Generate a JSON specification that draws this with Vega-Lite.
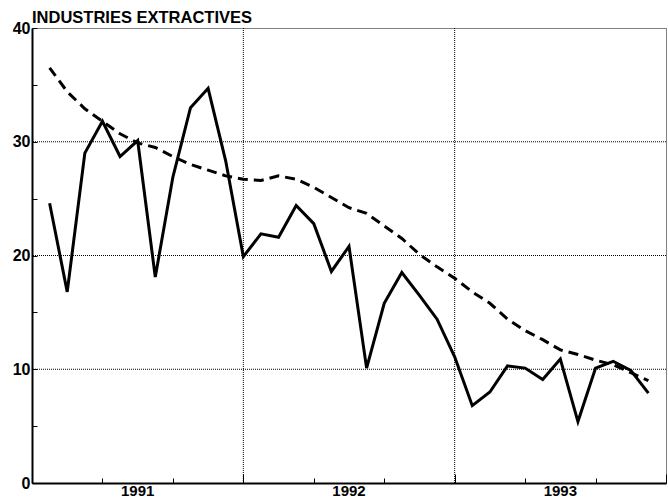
{
  "$schema": "https://vega.github.io/schema/vega-lite/v6.json",
  "width": 634,
  "height": 455,
  "autosize": {"type": "none"},
  "padding": {"left": 32, "top": 28, "right": 2, "bottom": 18},
  "background": "white",
  "config": {
    "view": {"stroke": "black", "strokeDash": [1, 1], "strokeWidth": 1},
    "font": "Liberation Sans"
  },
  "title": {
    "text": "INDUSTRIES EXTRACTIVES",
    "anchor": "start",
    "frame": "group",
    "fontSize": 16.5,
    "fontWeight": "bold",
    "font": "Liberation Sans",
    "color": "black",
    "offset": 4,
    "dy": 23,
    "baseline": "alphabetic"
  },
  "datasets": {
    "hgrid": [{"v": 10}, {"v": 20}, {"v": 30}],
    "vgrid": [{"m": 12}, {"m": 24}],
    "years": [{"m": 6, "yr": "1991"}, {"m": 18, "yr": "1992"}, {"m": 30, "yr": "1993"}],
    "series": [
      {"m": 1, "s": "actual", "v": 24.6}, {"m": 2, "s": "actual", "v": 16.8}, {"m": 3, "s": "actual", "v": 29.0},
      {"m": 4, "s": "actual", "v": 31.8}, {"m": 5, "s": "actual", "v": 28.7}, {"m": 6, "s": "actual", "v": 30.1},
      {"m": 7, "s": "actual", "v": 18.1}, {"m": 8, "s": "actual", "v": 26.9}, {"m": 9, "s": "actual", "v": 33.0},
      {"m": 10, "s": "actual", "v": 34.7}, {"m": 11, "s": "actual", "v": 28.3}, {"m": 12, "s": "actual", "v": 19.9},
      {"m": 13, "s": "actual", "v": 21.9}, {"m": 14, "s": "actual", "v": 21.6}, {"m": 15, "s": "actual", "v": 24.4},
      {"m": 16, "s": "actual", "v": 22.8}, {"m": 17, "s": "actual", "v": 18.6}, {"m": 18, "s": "actual", "v": 20.8},
      {"m": 19, "s": "actual", "v": 10.1}, {"m": 20, "s": "actual", "v": 15.8}, {"m": 21, "s": "actual", "v": 18.5},
      {"m": 22, "s": "actual", "v": 16.5}, {"m": 23, "s": "actual", "v": 14.4}, {"m": 24, "s": "actual", "v": 11.1},
      {"m": 25, "s": "actual", "v": 6.8}, {"m": 26, "s": "actual", "v": 8.0}, {"m": 27, "s": "actual", "v": 10.3},
      {"m": 28, "s": "actual", "v": 10.1}, {"m": 29, "s": "actual", "v": 9.1}, {"m": 30, "s": "actual", "v": 10.9},
      {"m": 31, "s": "actual", "v": 5.4}, {"m": 32, "s": "actual", "v": 10.1}, {"m": 33, "s": "actual", "v": 10.7},
      {"m": 34, "s": "actual", "v": 9.9}, {"m": 35, "s": "actual", "v": 7.9},
      {"m": 1, "s": "trend", "v": 36.5}, {"m": 2, "s": "trend", "v": 34.4}, {"m": 3, "s": "trend", "v": 32.9},
      {"m": 4, "s": "trend", "v": 31.8}, {"m": 5, "s": "trend", "v": 30.7}, {"m": 6, "s": "trend", "v": 29.9},
      {"m": 7, "s": "trend", "v": 29.5}, {"m": 8, "s": "trend", "v": 28.7}, {"m": 9, "s": "trend", "v": 28.0},
      {"m": 10, "s": "trend", "v": 27.5}, {"m": 11, "s": "trend", "v": 27.0}, {"m": 12, "s": "trend", "v": 26.7},
      {"m": 13, "s": "trend", "v": 26.6}, {"m": 14, "s": "trend", "v": 27.0}, {"m": 15, "s": "trend", "v": 26.7},
      {"m": 16, "s": "trend", "v": 26.0}, {"m": 17, "s": "trend", "v": 25.1}, {"m": 18, "s": "trend", "v": 24.2},
      {"m": 19, "s": "trend", "v": 23.7}, {"m": 20, "s": "trend", "v": 22.6}, {"m": 21, "s": "trend", "v": 21.5},
      {"m": 22, "s": "trend", "v": 20.1}, {"m": 23, "s": "trend", "v": 19.0}, {"m": 24, "s": "trend", "v": 18.0},
      {"m": 25, "s": "trend", "v": 16.8}, {"m": 26, "s": "trend", "v": 15.8}, {"m": 27, "s": "trend", "v": 14.4},
      {"m": 28, "s": "trend", "v": 13.4}, {"m": 29, "s": "trend", "v": 12.6}, {"m": 30, "s": "trend", "v": 11.7},
      {"m": 31, "s": "trend", "v": 11.3}, {"m": 32, "s": "trend", "v": 10.8}, {"m": 33, "s": "trend", "v": 10.4},
      {"m": 34, "s": "trend", "v": 9.7}, {"m": 35, "s": "trend", "v": 9.0}
    ]
  },
  "layer": [
    {
      "data": {"name": "hgrid"},
      "mark": {"type": "rule", "color": "black", "strokeWidth": 1, "strokeDash": [1, 1]},
      "encoding": {
        "y": {
          "field": "v",
          "type": "quantitative",
          "scale": {"domain": [0, 40], "nice": false, "zero": true},
          "axis": {
            "title": null,
            "grid": false,
            "values": [0, 5, 10, 15, 20, 25, 30, 35, 40],
            "labelExpr": "datum.value % 10 == 0 ? datum.label : ''",
            "labelOverlap": false,
            "labelBound": false,
            "labelFlush": false,
            "tickSize": -5,
            "tickColor": "black",
            "tickWidth": 1,
            "labelPadding": 7,
            "labelFont": "Liberation Sans",
            "labelFontSize": 16,
            "labelFontWeight": "bold",
            "labelColor": "black",
            "domainColor": "black",
            "domainWidth": 2
          }
        }
      }
    },
    {
      "data": {"name": "vgrid"},
      "mark": {"type": "rule", "color": "black", "strokeWidth": 1, "strokeDash": [1, 1]},
      "encoding": {
        "x": {
          "field": "m",
          "type": "quantitative",
          "scale": {"domain": [0, 36], "nice": false, "zero": false},
          "axis": {
            "title": null,
            "grid": false,
            "labels": false,
            "values": [0, 1, 2, 3, 4, 5, 6, 7, 8, 9, 10, 11, 12, 13, 14, 15, 16, 17, 18, 19, 20, 21, 22, 23, 24, 25, 26, 27, 28, 29, 30, 31, 32, 33, 34, 35, 36],
            "tickSize": {"condition": {"test": "datum.value % 12 == 0", "value": -9}, "value": -5},
            "tickColor": "black",
            "tickWidth": 1,
            "domainColor": "black",
            "domainWidth": 2
          }
        }
      }
    },
    {
      "data": {"name": "years"},
      "mark": {"type": "text", "baseline": "top", "align": "center", "dy": 1, "font": "Liberation Sans", "fontSize": 15, "fontWeight": "bold", "color": "black"},
      "encoding": {
        "x": {"field": "m", "type": "quantitative"},
        "y": {"datum": 0, "type": "quantitative"},
        "text": {"field": "yr", "type": "nominal"}
      }
    },
    {
      "data": {"name": "series"},
      "transform": [{"filter": "datum.s == 'trend'"}],
      "mark": {"type": "line", "color": "black", "strokeWidth": 3, "strokeDash": [10, 6]},
      "encoding": {
        "x": {"field": "m", "type": "quantitative"},
        "y": {"field": "v", "type": "quantitative"}
      }
    },
    {
      "data": {"name": "series"},
      "transform": [{"filter": "datum.s == 'actual'"}],
      "mark": {"type": "line", "color": "black", "strokeWidth": 3},
      "encoding": {
        "x": {"field": "m", "type": "quantitative"},
        "y": {"field": "v", "type": "quantitative"}
      }
    }
  ]
}
